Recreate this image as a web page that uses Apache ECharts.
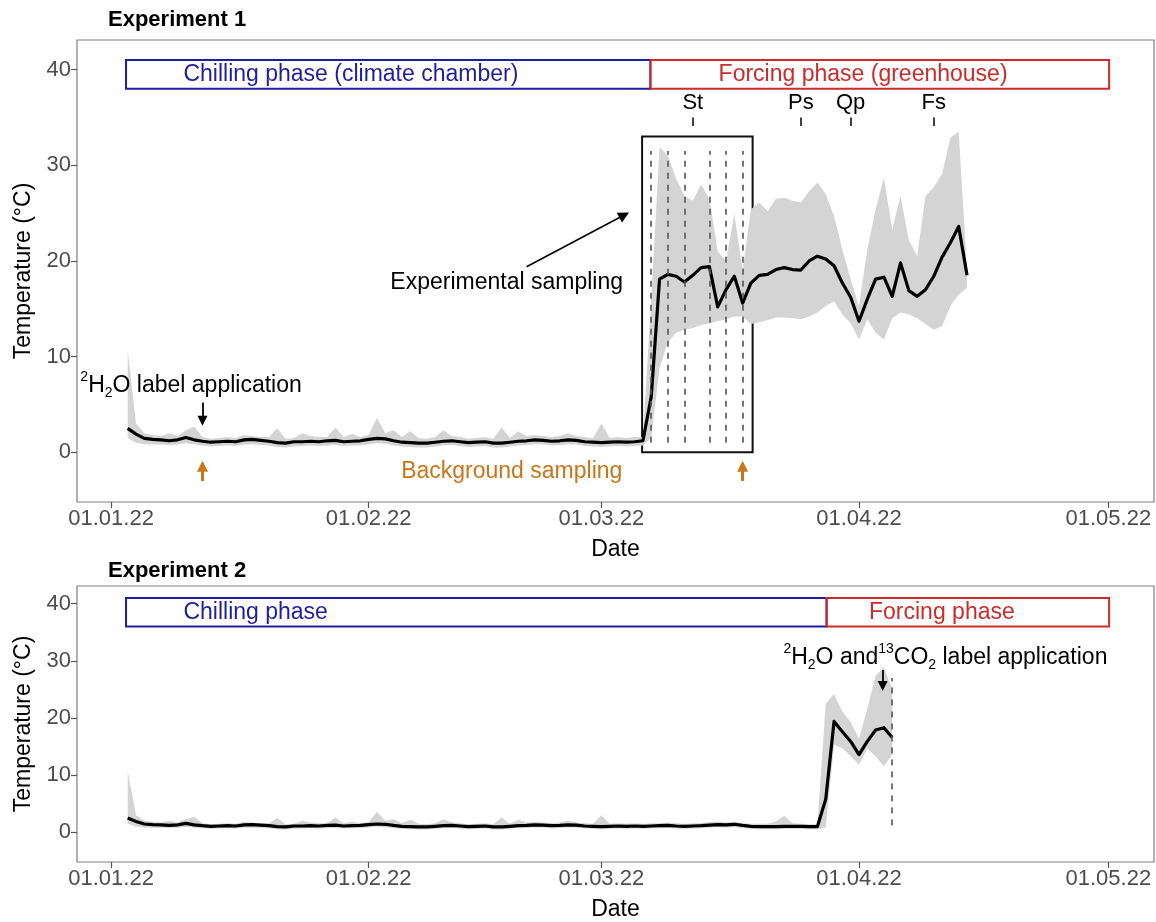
<!DOCTYPE html>
<html><head><meta charset="utf-8">
<script src="https://cdn.jsdelivr.net/npm/echarts@6/dist/echarts.min.js"></script>
<style>html,body{margin:0;padding:0;background:#fff}#c{width:1156px;height:922px}</style>
</head><body><div id="c"></div>
<script>
// ---- axis ticks (x in days after 01.01.22) ----
const xTickDays = [0, 31, 59, 90, 120];
const xTickLabels = ['01.01.22', '01.02.22', '01.03.22', '01.04.22', '01.05.22'];
const yTicks = [0, 10, 20, 30, 40];

// ---- Experiment 1 ----
const days1 = [2,3,4,5,6,7,8,9,10,11,12,13,14,15,16,17,18,19,20,21,22,23,24,25,26,27,28,29,30,31,32,33,34,35,36,37,38,39,40,41,42,43,44,45,46,47,48,49,50,51,52,53,54,55,56,57,58,59,60,61,62,63,64,65,66,67,68,69,70,71,72,73,74,75,76,77,78,79,80,81,82,83,84,85,86,87,88,89,90,91,92,93,94,95,96,97,98,99,100,101,102,103];
const mean1 = [2.5,1.9,1.45,1.35,1.3,1.2,1.3,1.55,1.3,1.15,
  1.05,1.1,1.15,1.1,1.3,1.35,1.25,1.15,1.0,0.95,
  1.1,1.1,1.15,1.1,1.2,1.25,1.1,1.15,1.2,1.35,
  1.45,1.4,1.2,1.05,1.0,0.95,0.95,1.05,1.15,1.2,
  1.1,1.0,1.05,1.1,0.95,0.95,1.05,1.15,1.2,1.3,
  1.25,1.15,1.2,1.3,1.25,1.1,1.05,1.0,1.05,1.1,
  1.05,1.1,
  1.2,5.8,18.1,18.6,18.4,17.8,18.5,19.3,19.4,15.2,
  17.0,18.4,15.6,17.7,18.5,18.6,19.1,19.3,19.1,19.05,
  20.0,20.5,20.2,19.5,17.7,16.2,13.7,16.0,18.1,18.3,
  16.3,19.8,16.9,16.3,17.0,18.4,20.4,21.9,23.6,18.5];
const hi1 = [10.7,3.0,2.0,1.8,1.7,2.0,1.7,2.3,2.7,1.6,
  1.4,1.5,1.6,1.5,1.8,1.7,1.6,1.6,2.5,1.4,
  1.5,2.0,1.7,1.6,1.6,2.6,1.6,1.9,1.6,1.8,
  3.6,2.0,2.3,1.6,2.2,1.5,1.4,1.6,2.3,1.7,
  1.6,1.4,1.5,1.6,1.4,2.6,1.5,2.2,1.7,1.8,
  1.7,1.6,1.7,2.0,1.7,1.6,1.5,3.0,1.5,1.6,
  1.5,1.6,
  1.6,16.0,31.9,31.0,28.6,26.8,26.3,28.0,26.5,21.0,
  20.0,24.9,19.1,25.4,26.1,25.2,26.5,26.6,26.3,26.1,
  27.3,28.2,27.0,24.7,21.2,18.1,15.3,21.2,25.4,28.7,
  23.3,26.8,22.2,20.5,26.8,27.7,29.1,32.9,33.5,19.0];
const lo1 = [1.5,1.0,0.85,0.8,0.8,0.75,0.8,0.95,0.8,0.7,
  0.6,0.65,0.7,0.65,0.8,0.85,0.75,0.7,0.55,0.5,
  0.6,0.65,0.7,0.65,0.7,0.75,0.65,0.7,0.7,0.85,
  0.95,0.9,0.7,0.6,0.55,0.5,0.5,0.6,0.7,0.75,
  0.65,0.55,0.6,0.65,0.5,0.5,0.6,0.7,0.75,0.85,
  0.8,0.7,0.75,0.85,0.8,0.65,0.6,0.55,0.6,0.65,
  0.6,0.65,
  0.7,1.5,8.8,11.5,12.5,12.8,13.0,13.3,13.5,13.7,
  13.9,14.2,14.2,13.4,13.6,13.8,14.1,14.1,14.0,13.9,
  14.2,14.6,15.3,15.8,14.4,13.5,11.8,13.9,12.5,11.8,
  14.0,14.6,14.4,14.0,13.4,12.8,13.2,15.3,16.5,17.2];
const samplingDays1 = [65, 67, 69, 72, 74, 76];
const phenoNames = ['St', 'Ps', 'Qp', 'Fs'];
const phenoDays = [70, 83, 89, 99];
const backgroundDays = [11, 76];

// ---- Experiment 2 ----
const days2 = [2,3,4,5,6,7,8,9,10,11,12,13,14,15,16,17,18,19,20,21,22,23,24,25,26,27,28,29,30,31,32,33,34,35,36,37,38,39,40,41,42,43,44,45,46,47,48,49,50,51,52,53,54,55,56,57,58,59,60,61,62,63,64,65,66,67,68,69,70,71,72,73,74,75,76,77,78,79,80,81,82,83,84,85,86,87,88,89,90,91,92,93,94];
const mean2 = [2.5,1.9,1.45,1.35,1.3,1.2,1.3,1.55,1.3,1.15,
  1.05,1.1,1.15,1.1,1.3,1.35,1.25,1.15,1.0,0.95,
  1.1,1.1,1.15,1.1,1.2,1.25,1.1,1.15,1.2,1.35,
  1.45,1.4,1.2,1.05,1.0,0.95,0.95,1.05,1.15,1.2,
  1.1,1.0,1.05,1.1,0.95,0.95,1.05,1.15,1.2,1.3,
  1.25,1.15,1.2,1.3,1.25,1.1,1.05,1.0,1.05,1.1,
  1.05,1.1,
  1.05,1.1,1.15,1.2,1.1,1.05,1.1,1.15,1.25,1.35,1.3,1.4,1.2,1.05,1.0,1.0,1.0,1.05,1.05,1.05,1.0,1.0,
  5.8,19.4,17.6,15.9,13.6,15.9,17.9,18.3,16.6];
const hi2 = [10.7,3.0,2.0,1.8,1.7,2.0,1.7,2.3,2.7,1.6,
  1.4,1.5,1.6,1.5,1.8,1.7,1.6,1.6,2.5,1.4,
  1.5,2.0,1.7,1.6,1.6,2.6,1.6,1.9,1.6,1.8,
  3.6,2.0,2.3,1.6,2.2,1.5,1.4,1.6,2.3,1.7,
  1.6,1.4,1.5,1.6,1.4,2.6,1.5,2.2,1.7,1.8,
  1.7,1.6,1.7,2.0,1.7,1.6,1.5,3.0,1.5,1.6,
  1.5,1.6,
  1.5,1.6,1.6,1.7,1.6,1.5,1.6,1.6,1.8,1.9,1.7,1.9,1.6,1.5,1.5,1.5,1.9,2.9,1.6,1.5,1.4,1.4,
  22.5,24.2,21.1,19.3,16.4,21.6,27.4,28.9,25.1];
const lo2 = [1.5,1.0,0.85,0.8,0.8,0.75,0.8,0.95,0.8,0.7,
  0.6,0.65,0.7,0.65,0.8,0.85,0.75,0.7,0.55,0.5,
  0.6,0.65,0.7,0.65,0.7,0.75,0.65,0.7,0.7,0.85,
  0.95,0.9,0.7,0.6,0.55,0.5,0.5,0.6,0.7,0.75,
  0.65,0.55,0.6,0.65,0.5,0.5,0.6,0.7,0.75,0.85,
  0.8,0.7,0.75,0.85,0.8,0.65,0.6,0.55,0.6,0.65,
  0.6,0.65,
  0.6,0.65,0.7,0.75,0.65,0.6,0.65,0.7,0.8,0.9,0.85,0.9,0.75,0.6,0.55,0.55,0.55,0.6,0.6,0.6,0.55,0.55,
  0.8,15.3,14.7,13.3,11.8,14.7,13.3,11.5,13.6];
const labelDay2 = 94;

// ---- styling ----
const FONT = "'Liberation Sans', Arial, Helvetica, sans-serif";
const BLUE = '#1f1f9e', RED = '#cc2b2b', ORANGE = '#c8761a', GREY = '#d4d4d4';
const X_MIN = -4.1, X_MAX = 125.5, Y_MIN = -5.2, Y_MAX = 43.1;

function mkX(gi) {
  return {
    type: 'value', gridIndex: gi, min: X_MIN, max: X_MAX,
    name: 'Date', nameLocation: 'middle', nameGap: 36,
    nameTextStyle: { fontSize: 23, color: '#000', fontFamily: FONT },
    axisLine: { show: false, onZero: false }, splitLine: { show: false },
    axisTick: { show: true, length: 6, customValues: xTickDays, lineStyle: { color: '#555', width: 1.2 } },
    axisLabel: { show: true, customValues: xTickDays, fontSize: 22, color: '#4d4d4d', margin: 6, fontFamily: FONT,
      formatter: v => xTickLabels[xTickDays.indexOf(v)] }
  };
}
function mkY(gi) {
  return {
    type: 'value', gridIndex: gi, min: Y_MIN, max: Y_MAX,
    name: 'Temperature (°C)', nameLocation: 'middle', nameGap: 42,
    nameTextStyle: { fontSize: 23, color: '#000', fontFamily: FONT },
    axisLine: { show: false, onZero: false }, splitLine: { show: false },
    axisTick: { show: true, length: 6, customValues: yTicks, lineStyle: { color: '#555', width: 1.2 } },
    axisLabel: { show: true, customValues: yTicks, fontSize: 22, color: '#4d4d4d', margin: 6, fontFamily: FONT }
  };
}
function band(gi, days, lo, hi) {
  return {
    type: 'custom', xAxisIndex: gi, yAxisIndex: gi, z: 1, silent: true,
    data: days.map((d, i) => [d, lo[i], hi[i]]),
    renderItem: function (params, api) {
      if (params.dataIndex !== 0) return null;
      const pts = [];
      for (let i = 0; i < days.length; i++) pts.push(api.coord([days[i], hi[i]]));
      for (let i = days.length - 1; i >= 0; i--) pts.push(api.coord([days[i], lo[i]]));
      return { type: 'polygon', shape: { points: pts }, style: { fill: GREY } };
    }
  };
}
function meanLine(gi, days, vals) {
  return {
    type: 'line', xAxisIndex: gi, yAxisIndex: gi, z: 3, silent: true,
    data: days.map((d, i) => [d, vals[i]]),
    symbol: 'none', lineStyle: { color: '#000', width: 3.2, join: 'round' }
  };
}
function rectPair(x1, y1, x2, y2, color, w) {
  return [{ coord: [x1, y1], itemStyle: { color: 'rgba(0,0,0,0)', borderColor: color, borderWidth: w } }, { coord: [x2, y2] }];
}
const rich = {
  n: { fontSize: 23, lineHeight: 30, verticalAlign: 'middle', fontFamily: FONT, color: '#000' },
  sup: { fontSize: 14, lineHeight: 14, verticalAlign: 'top', fontFamily: FONT, color: '#000' },
  sub: { fontSize: 14, lineHeight: 14, verticalAlign: 'bottom', fontFamily: FONT, color: '#000' }
};
function txt(x, y, text, color, pos, size) {
  return {
    value: [x, y],
    label: { show: true, position: pos || 'right', distance: 0, formatter: text, color: color || '#000',
      fontSize: size || 23, fontFamily: FONT, rich: rich, opacity: 1 }
  };
}
function arrow(x1, y1, x2, y2, color, w, size) {
  return [{ coord: [x1, y1], lineStyle: { color: color, width: w, type: 'solid', opacity: 1 }, symbol: 'none' },
          { coord: [x2, y2], symbol: 'triangle', symbolSize: size, itemStyle: { color: color, opacity: 1 } }];
}
const hiddenItem = { color: 'rgba(0,0,0,0)', opacity: 1 };

const series = [];
// ---------- panel 1 ----------
series.push(band(0, days1, lo1, hi1));
series.push({
  type: 'scatter', xAxisIndex: 0, yAxisIndex: 0, z: 2, silent: true,
  data: [[0, 0]], symbolSize: 0.1, itemStyle: hiddenItem,
  markLine: {
    silent: true, animation: false, symbol: ['none', 'none'], label: { show: false },
    lineStyle: { color: '#555', width: 1.6, type: [6, 6], opacity: 1 },
    data: samplingDays1.map(d => [{ coord: [d, 1.0] }, { coord: [d, 31.5] }])
  },
  markArea: {
    silent: true, animation: false, label: { show: false },
    data: [
      rectPair(1.8, 38, 64.9, 41, BLUE, 2),
      rectPair(64.9, 38, 120.1, 41, RED, 2),
      rectPair(63.9, 0, 77.2, 33, '#111', 2)
    ]
  }
});
series.push(meanLine(0, days1, mean1));
series.push({
  type: 'scatter', xAxisIndex: 0, yAxisIndex: 0, z: 5, silent: true,
  symbolSize: 0.1, itemStyle: hiddenItem,
  data: [
    txt(8.7, 39.5, 'Chilling phase (climate chamber)', BLUE),
    txt(73.1, 39.5, 'Forcing phase (greenhouse)', RED),
    txt(33.6, 17.7, 'Experimental sampling', '#000'),
    txt(34.9, -2.0, 'Background sampling', ORANGE),
    txt(-3.7, 7.0, '{sup|2}{n|H}{sub|2}{n|O label application}', '#000'),
    ...phenoNames.map((n, i) => txt(phenoDays[i], 36.5, n, '#000', 'inside', 22))
  ],
  markLine: {
    silent: true, animation: false, symbol: ['none', 'none'], label: { show: false },
    lineStyle: { color: '#000', width: 1.5, type: 'solid', opacity: 1 },
    data: [
      ...phenoDays.map(d => [{ coord: [d, 34.1] }, { coord: [d, 35.0] }]),
      arrow(50.0, 19.4, 61.75, 24.8, '#000', 1.6, 11),
      arrow(11, 5.2, 11, 3.3, '#000', 1.8, 10),
      ...backgroundDays.map(d => arrow(d, -3.0, d, -1.45, ORANGE, 3, 11))
    ]
  }
});
// ---------- panel 2 ----------
series.push(band(1, days2, lo2, hi2));
series.push({
  type: 'scatter', xAxisIndex: 1, yAxisIndex: 1, z: 2, silent: true,
  data: [[0, 0]], symbolSize: 0.1, itemStyle: hiddenItem,
  markLine: {
    silent: true, animation: false, symbol: ['none', 'none'], label: { show: false },
    lineStyle: { color: '#555', width: 1.6, type: [6, 6], opacity: 1 },
    data: [[{ coord: [labelDay2, 1.2] }, { coord: [labelDay2, 27] }]]
  },
  markArea: {
    silent: true, animation: false, label: { show: false },
    data: [
      rectPair(1.8, 36, 86.1, 41, BLUE, 2),
      rectPair(86.1, 36, 120.1, 41, RED, 2)
    ]
  }
});
series.push(meanLine(1, days2, mean2));
series.push({
  type: 'scatter', xAxisIndex: 1, yAxisIndex: 1, z: 5, silent: true,
  symbolSize: 0.1, itemStyle: hiddenItem,
  data: [
    txt(8.7, 38.4, 'Chilling phase', BLUE),
    txt(91.2, 38.4, 'Forcing phase', RED),
    txt(80.9, 30.6, '{sup|2}{n|H}{sub|2}{n|O and}{sup|13}{n|CO}{sub|2}{n| label application}', '#000')
  ],
  markLine: {
    silent: true, animation: false, symbol: ['none', 'none'], label: { show: false },
    lineStyle: { color: '#000', width: 1.8, type: 'solid', opacity: 1 },
    data: [arrow(92.85, 28.4, 92.85, 25.6, '#000', 1.8, 10)]
  }
});

const chart = echarts.init(document.getElementById('c'), null, { renderer: 'canvas' });
chart.setOption({
  animation: false,
  backgroundColor: '#fff',
  textStyle: { fontFamily: FONT },
  title: [
    { text: 'Experiment 1', left: 108, top: 9, padding: 0, textStyle: { fontSize: 22, fontWeight: 'bold', color: '#000', fontFamily: FONT } },
    { text: 'Experiment 2', left: 108, top: 560, padding: 0, textStyle: { fontSize: 22, fontWeight: 'bold', color: '#000', fontFamily: FONT } }
  ],
  grid: [
    { left: 77, top: 40, width: 1077, height: 462, show: true, borderColor: '#808080', borderWidth: 1.2, backgroundColor: 'rgba(0,0,0,0)' },
    { left: 77, top: 586, width: 1077, height: 279, show: true, borderColor: '#808080', borderWidth: 1.2, backgroundColor: 'rgba(0,0,0,0)' }
  ],
  xAxis: [mkX(0), mkX(1)],
  yAxis: [mkY(0), mkY(1)],
  series: series
});
</script></body></html>
